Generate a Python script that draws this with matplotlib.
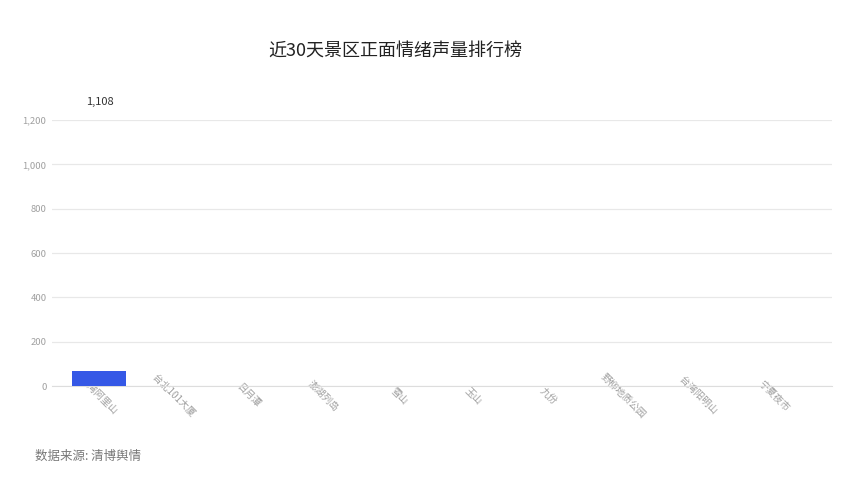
import matplotlib
matplotlib.use('Agg')
import matplotlib.pyplot as plt
from matplotlib.ticker import FuncFormatter

plt.rcParams['font.family'] = ['Noto Sans CJK SC', 'DejaVu Sans']

title = '近30天景区正面情绪声量排行榜'
source = '数据来源: 清博舆情'

spots = ['台湾阿里山', '台北101大厦', '日月潭', '澎湖列岛', '雪山',
         '玉山', '九份', '野柳地质公园', '台湾阳明山', '宁夏夜市']
# height of the bars as drawn in the picture (the first one was caught mid-animation)
bar_heights = [68, 0, 0, 0, 0, 0, 0, 0, 0, 0]
# value printed above the first bar
top_label = 1108
y_ticks = [0, 200, 400, 600, 800, 1000, 1200]

fig = plt.figure(figsize=(8.54, 4.8), dpi=100)
ax = fig.add_axes([0.0609, 0.1958, 0.9133, 0.5542])

x = list(range(len(spots)))
ax.bar(x, bar_heights, width=0.72, color='#3558e6', zorder=3)

ax.annotate('{:,}'.format(top_label), (0, top_label), xytext=(1, 24),
            textcoords='offset points', ha='center', va='bottom',
            fontsize=8, color='#333333', annotation_clip=False)

ax.set_xlim(-0.62, 9.78)
ax.set_ylim(0, 1200)
ax.set_yticks(y_ticks)
ax.yaxis.set_major_formatter(FuncFormatter(lambda v, p: '{:,}'.format(int(v))))
ax.set_xticks(x)
ax.set_xticklabels(spots, rotation=-45, rotation_mode='anchor', ha='center', va='center')

ax.set_axisbelow(True)
ax.grid(axis='y', color='#e8e8e8', linewidth=0.9)
for s in ['top', 'right', 'left']:
    ax.spines[s].set_visible(False)
ax.spines['bottom'].set_color('#dddddd')
ax.tick_params(axis='x', length=0, pad=7, labelsize=7, labelcolor='#a0a0a0')
ax.tick_params(axis='y', length=0, pad=4, labelsize=6.8, labelcolor='#a0a0a0')

fig.text(0.4625, 0.892, title, ha='center', va='center', fontsize=13, color='#222222')
fig.text(0.041, 0.05, source, ha='left', va='center', fontsize=9, color='#777777')

fig.savefig('out.png', dpi=100)
